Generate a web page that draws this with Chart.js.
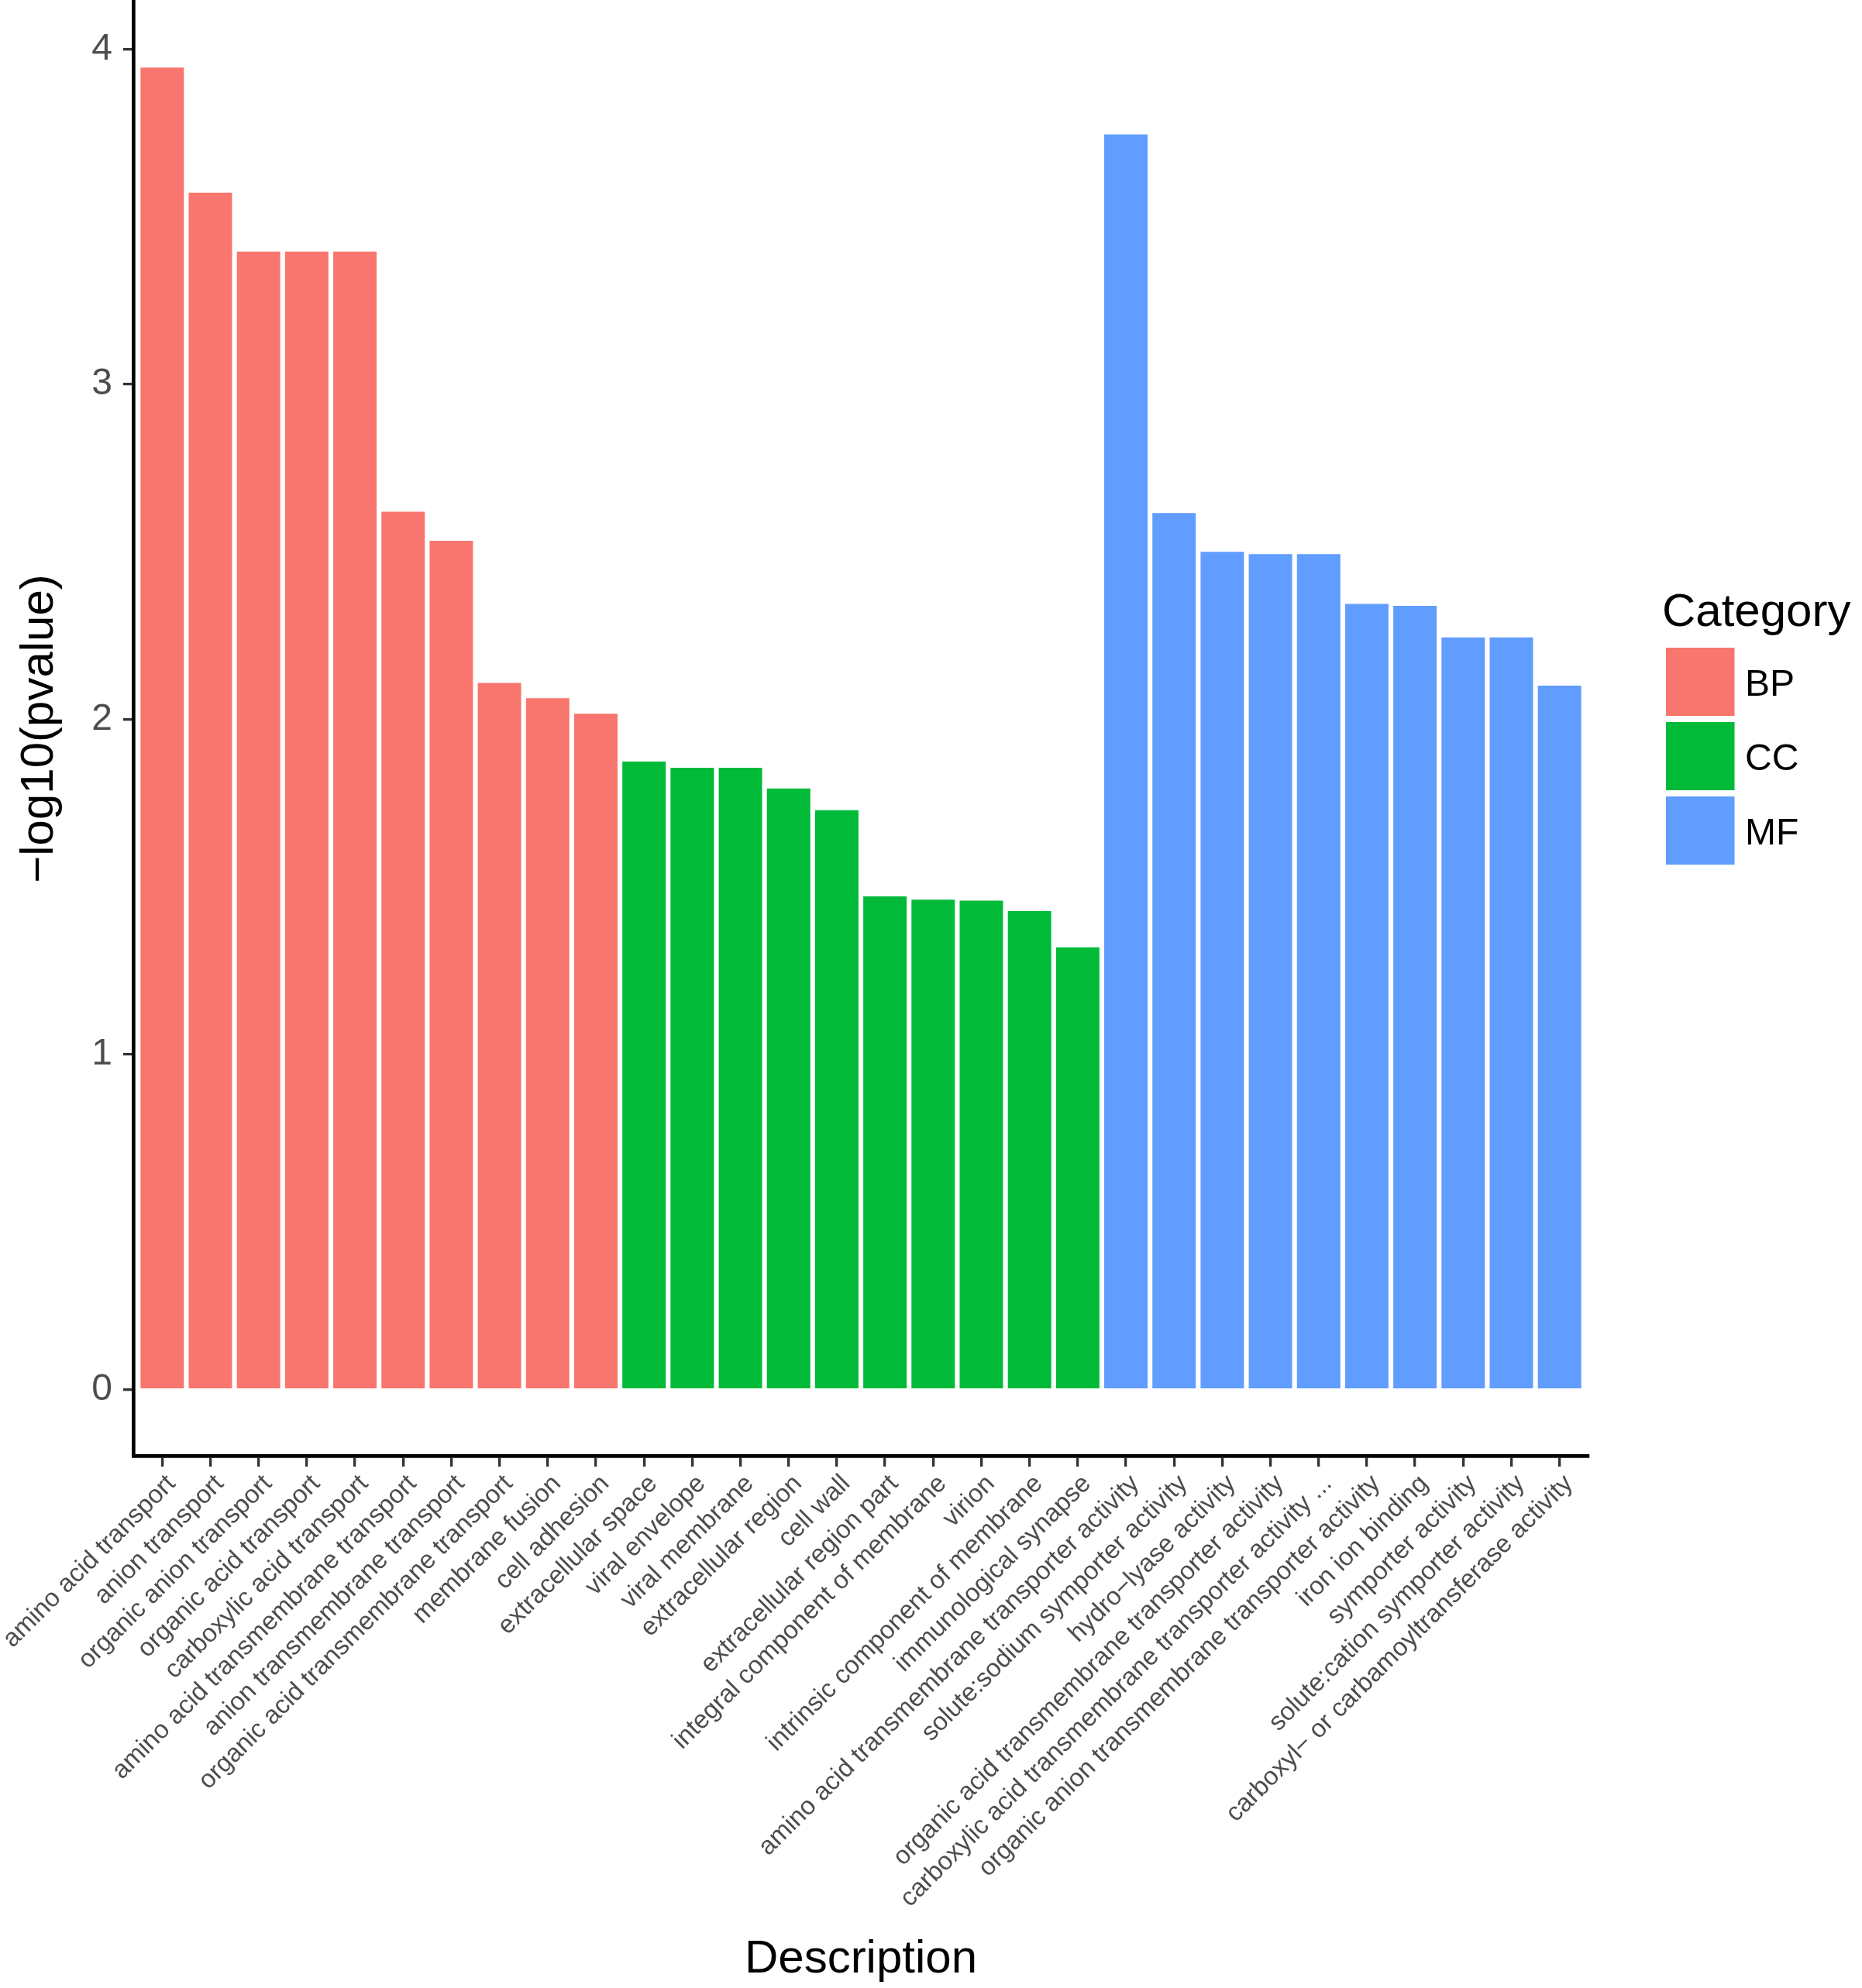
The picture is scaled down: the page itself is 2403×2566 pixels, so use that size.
<!DOCTYPE html>
<html>
<head>
<meta charset="utf-8">
<script src="https://cdn.jsdelivr.net/npm/chart.js@4.4.1/dist/chart.umd.min.js"></script>
<style>
  html, body { margin: 0; padding: 0; background: #fff; overflow: hidden; }
  canvas { display: block; }
</style>
</head>
<body>
<canvas id="goChart" width="2403" height="2566"></canvas>
<script>
// =================== DATA ===================
const descriptions = [
	"amino acid transport",
	"anion transport",
	"organic anion transport",
	"organic acid transport",
	"carboxylic acid transport",
	"amino acid transmembrane transport",
	"anion transmembrane transport",
	"organic acid transmembrane transport",
	"membrane fusion",
	"cell adhesion",
	"extracellular space",
	"viral envelope",
	"viral membrane",
	"extracellular region",
	"cell wall",
	"extracellular region part",
	"integral component of membrane",
	"virion",
	"intrinsic component of membrane",
	"immunological synapse",
	"amino acid transmembrane transporter activity",
	"solute:sodium symporter activity",
	"hydro\u2212lyase activity",
	"organic acid transmembrane transporter activity",
	"carboxylic acid transmembrane transporter activity ...",
	"organic anion transmembrane transporter activity",
	"iron ion binding",
	"symporter activity",
	"solute:cation symporter activity",
	"carboxyl\u2212 or carbamoyltransferase activity",
];

const termCategory = [
	"BP", "BP", "BP", "BP", "BP", "BP", "BP", "BP", "BP", "BP",
	"CC", "CC", "CC", "CC", "CC", "CC", "CC", "CC", "CC", "CC",
	"MF", "MF", "MF", "MF", "MF", "MF", "MF", "MF", "MF", "MF",
];

// -log10(pvalue)
const logP = [
	3.945, 3.572, 3.396, 3.396, 3.396, 2.62, 2.533, 2.109, 2.063, 2.017,
	1.874, 1.856, 1.856, 1.794, 1.729, 1.472, 1.462, 1.459, 1.428, 1.32,
	3.746, 2.616, 2.5, 2.493, 2.493, 2.345, 2.339, 2.245, 2.245, 2.101,
];

const categoryNames = ["BP", "CC", "MF"];
const categoryColors = ["#F8766D", "#00BA38", "#619CFF"];
const yTicks = [0, 1, 2, 3, 4];

const FONT = "'Liberation Sans', Arial, Helvetica, sans-serif";

// =================== UTILITY ===================
function buildDatasets() {
	return categoryNames.map((name, c) => ({
		label: name,
		data: logP
			.map((v, i) => ({ x: i + 1, y: v, cat: termCategory[i] }))
			.filter((p) => p.cat === name),
		backgroundColor: categoryColors[c],
		borderWidth: 0,
		barPercentage: 0.9,
		categoryPercentage: 1,
		grouped: false,
	}));
}

// ggplot style legend on the right
const sideLegend = {
	id: "sideLegend",
	afterDraw(chart) {
		const { ctx } = chart;
		ctx.save();
		ctx.textAlign = "left";
		ctx.textBaseline = "alphabetic";
		ctx.fillStyle = "#000";
		ctx.font = `60px ${FONT}`;
		ctx.fillText("Category", 2145, 808);
		ctx.font = `48px ${FONT}`;
		chart.data.datasets.forEach((ds, i) => {
			const top = 836 + i * 96;
			ctx.fillStyle = ds.backgroundColor;
			ctx.fillRect(2150, top, 88.5, 88);
			ctx.fillStyle = "#000";
			ctx.fillText(ds.label, 2252, top + 61.5);
		});
		ctx.restore();
	},
};

// =================== CHART ===================
Chart.defaults.font.family = FONT;

const yTop = Math.max(...logP);
const nTerms = descriptions.length;

new Chart(document.getElementById("goChart").getContext("2d"), {
	type: "bar",
	data: { datasets: buildDatasets() },
	options: {
		responsive: false,
		animation: false,
		devicePixelRatio: 1,
		layout: {
			autoPadding: false,
			padding: { top: 2, right: 353, bottom: 0, left: 0 },
		},
		plugins: {
			legend: { display: false },
			tooltip: { enabled: false },
		},
		scales: {
			x: {
				type: "linear",
				min: 1 - 0.6,
				max: nTerms + 0.6,
				offset: false,
				afterBuildTicks: (axis) => {
					axis.ticks = descriptions.map((_, i) => ({ value: i + 1 }));
				},
				afterFit: (axis) => {
					axis.height = 687;
					axis.paddingLeft = 0;
					axis.paddingRight = 0;
				},
				ticks: {
					autoSkip: false,
					minRotation: 45,
					maxRotation: 45,
					padding: 3,
					labelOffset: 12,
					color: "#4D4D4D",
					font: { size: 33 },
					callback: (v) => descriptions[v - 1],
				},
				grid: {
					offset: false,
					drawOnChartArea: false,
					drawTicks: true,
					tickLength: 14,
					lineWidth: 3.3,
					tickWidth: 3.3,
					tickColor: "#333333",
				},
				border: { display: true, color: "#000", width: 4.7 },
				title: {
					display: true,
					text: "Description",
					color: "#000",
					font: { size: 60 },
					padding: { top: 0, bottom: 1 },
				},
			},
			y: {
				min: -0.05 * yTop,
				max: yTop * 1.05,
				afterBuildTicks: (axis) => {
					axis.ticks = yTicks.map((v) => ({ value: v }));
				},
				afterFit: (axis) => {
					axis.width = 172;
					axis.paddingTop = 0;
					axis.paddingBottom = 0;
				},
				ticks: {
					padding: 14,
					color: "#4D4D4D",
					font: { size: 48 },
				},
				grid: {
					drawOnChartArea: false,
					drawTicks: true,
					tickLength: 13,
					lineWidth: 3.3,
					tickWidth: 3.3,
					tickColor: "#333333",
				},
				border: { display: true, color: "#000", width: 4.7 },
				title: {
					display: true,
					text: "\u2212log10(pvalue)",
					color: "#000",
					font: { size: 60 },
					padding: { top: 15, bottom: 0 },
				},
			},
		},
	},
	plugins: [sideLegend],
});
</script>
</body>
</html>
